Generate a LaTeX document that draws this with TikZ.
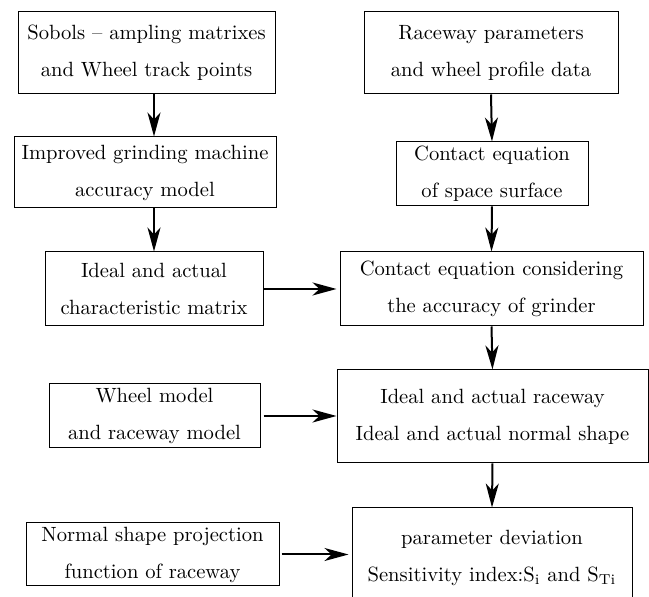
\documentclass[tikz,border=0pt]{standalone}
\usetikzlibrary{positioning,arrows.meta}
\tikzset{
  box/.style={rectangle, draw, line width=0.5pt, fill=white, align=center, inner sep=0pt},
  flow/.style={-{Stealth[length=12pt, width=6.5pt, inset=3.5pt]}, line width=1pt}
}

\begin{document}
\begin{tikzpicture}[x=0.5pt, y=-0.5pt, font=\fontsize{10.3}{18.5}\selectfont]
      \useasboundingbox (0,0) rectangle (649,597);
      % left column
      \node [box, minimum width=128.5pt, minimum height=41pt] (sobol) at (146.5,53)
        {Sobols -- ampling matrixes\\and Wheel track points};
      \node [box, minimum width=131pt, minimum height=35.5pt] (improved) at (145,172.5)
        {Improved grinding machine\\accuracy model};
      \node [box, minimum width=109pt, minimum height=37pt] (charmat) at (154,289)
        {Ideal and actual\\characteristic matrix};
      \node [box, minimum width=105.5pt, minimum height=32pt] (wheel) at (154.5,416)
        {Wheel model\\and raceway model};
      \node [box, minimum width=126.5pt, minimum height=31.5pt] (projection) at (152.5,554.5)
        {Normal shape projection\\function of raceway};
      % right column
      \node [box, minimum width=127pt, minimum height=41pt] (raceway) at (491,53)
        {Raceway parameters\\and wheel profile data};
      \node [box, minimum width=96pt, minimum height=32pt] (surface) at (492,174)
        {Contact equation\\of space surface};
      \node [box, minimum width=151.5pt, minimum height=37pt] (grinder) at (491.5,289)
        {Contact equation considering\\the accuracy of grinder};
      \node [box, minimum width=155.5pt, minimum height=46.5pt] (shape) at (492.5,416.5)
        {Ideal and actual raceway\\Ideal and actual normal shape};
      \node [box, minimum width=140pt, minimum height=50pt] (deviation) at (492,558)
        {parameter deviation\\Sensitivity index:S\textsubscript{i} and S\textsubscript{Ti}};
      % arrows
      \draw [flow] (sobol.south -| charmat) -- (improved.north -| charmat);
      \draw [flow] (improved.south -| charmat) -- (charmat.north);
      \draw [flow] (raceway.south) -- (surface.north);
      \draw [flow] (surface.south) -- (grinder.north);
      \draw [flow] (grinder.south) -- (shape.north);
      \draw [flow] (shape.south) -- (deviation.north);
      \draw [flow, shorten >=1.5pt] (charmat.east) -- (grinder.west);
      \draw [flow, shorten <=1.5pt] (wheel.east) -- (wheel.east -| shape.west);
      \draw [flow, shorten <=1pt, shorten >=1.5pt] (projection.east) -- (projection.east -| deviation.west);
    \end{tikzpicture}
\end{document}
